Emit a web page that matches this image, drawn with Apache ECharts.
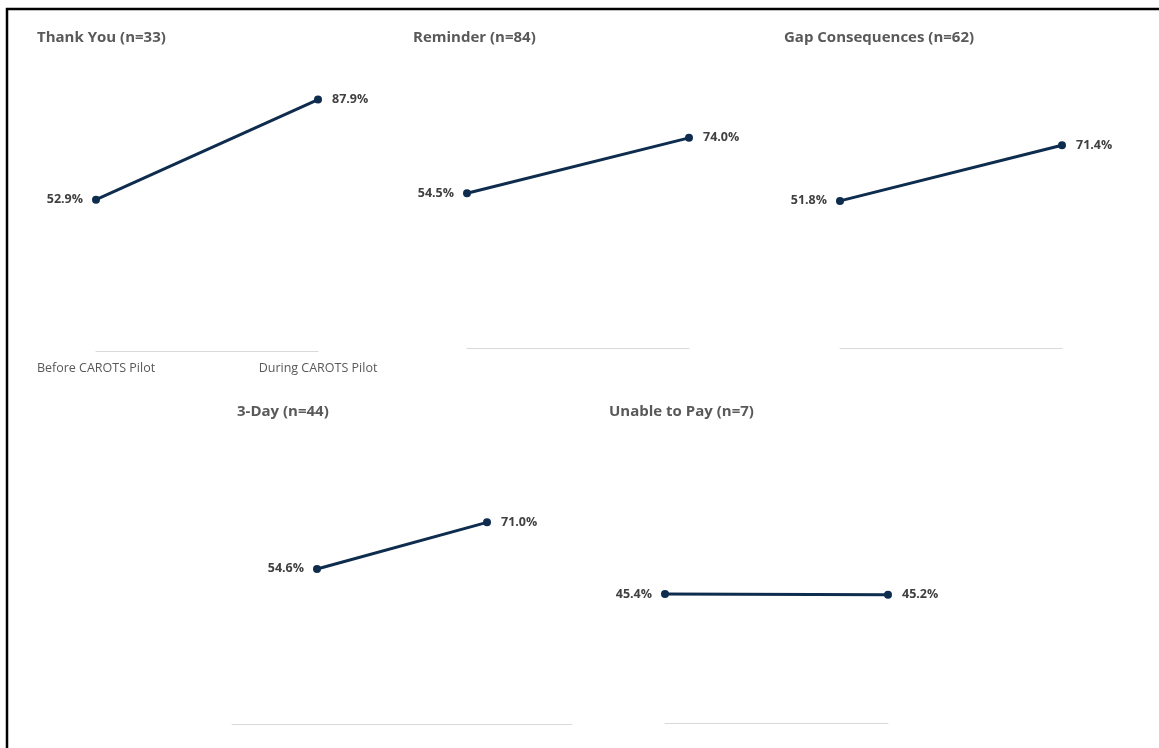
<!DOCTYPE html>
<html>
<head>
<meta charset="utf-8">
<script src="https://cdn.jsdelivr.net/npm/echarts@6/dist/echarts.min.js"></script>
<style>
  html, body { margin: 0; padding: 0; background: #ffffff; }
  #chart { width: 1159px; height: 748px; }
</style>
</head>
<body>
<div id="chart"></div>
<script>
// Share of accounts by message type, before vs. during the CAROTS pilot
const categories = ['Before CAROTS Pilot', 'During CAROTS Pilot'];
const panelNames = ['Thank You', 'Reminder', 'Gap Consequences', '3-Day', 'Unable to Pay'];
const panelN = [33, 84, 62, 44, 7];
const beforeValues = [52.9, 54.5, 51.8, 54.6, 45.4];
const duringValues = [87.9, 74.0, 71.4, 71.0, 45.2];

// Panel placement (pixels)
const layout = [
  { left: 96,  top: 65,  width: 222, height: 286, titleX: 37,  titleY: 30,  showCats: true,  gap: false },
  { left: 467, top: 64,  width: 222, height: 284, titleX: 413, titleY: 30,  showCats: false, gap: false },
  { left: 840, top: 64,  width: 222, height: 284, titleX: 784, titleY: 30,  showCats: false, gap: false },
  { left: 232, top: 440, width: 340, height: 284, titleX: 237, titleY: 404, showCats: false, gap: true },
  { left: 665, top: 439, width: 223, height: 284, titleX: 609, titleY: 404, showCats: false, gap: false }
];

const FONT = '"Open Sans", "Noto Sans", sans-serif';
const LINE_COLOR = '#0e2c4e';

const grid = [], xAxis = [], yAxis = [], series = [], title = [];

layout.forEach((p, i) => {
  grid.push({ left: p.left, top: p.top, width: p.width, height: p.height, containLabel: false });
  xAxis.push({
    gridIndex: i,
    type: 'category',
    data: categories,
    boundaryGap: p.gap,
    axisLine: { show: true, lineStyle: { color: '#d9d9d9', width: 1 } },
    axisTick: { show: false },
    axisLabel: {
      show: p.showCats,
      margin: 11,
      color: '#595959',
      fontFamily: FONT,
      fontSize: 12.5
    },
    splitLine: { show: false }
  });
  yAxis.push({
    gridIndex: i,
    type: 'value',
    min: 0,
    max: 100,
    show: false
  });
  title.push({
    text: panelNames[i] + ' (n=' + panelN[i] + ')',
    left: p.titleX,
    top: p.titleY,
    padding: 0,
    textStyle: { color: '#595959', fontFamily: FONT, fontSize: 15, fontWeight: 'bold' }
  });
  const labelBase = { show: true, color: '#404040', fontFamily: FONT, fontSize: 12.5, fontWeight: 'bold',
                      formatter: (d) => d.value.toFixed(1) + '%' };
  series.push({
    type: 'line',
    xAxisIndex: i,
    yAxisIndex: i,
    data: [
      { value: beforeValues[i], label: Object.assign({}, labelBase, { position: 'left', distance: 9 }) },
      { value: duringValues[i], label: Object.assign({}, labelBase, { position: 'right', distance: 10 }) }
    ],
    symbol: 'circle',
    symbolSize: 8,
    lineStyle: { color: LINE_COLOR, width: 3 },
    itemStyle: { color: LINE_COLOR },
    emphasis: { disabled: true },
    silent: true,
    animation: false
  });
});

const chart = echarts.init(document.getElementById('chart'), null, { renderer: 'canvas' });
chart.setOption({
  backgroundColor: '#ffffff',
  animation: false,
  title: title,
  grid: grid,
  xAxis: xAxis,
  yAxis: yAxis,
  series: series,
  graphic: [
    { type: 'line', shape: { x1: 6, y1: 9, x2: 1159, y2: 9 }, style: { stroke: '#000000', lineWidth: 2.5 } },
    { type: 'line', shape: { x1: 7, y1: 8, x2: 7, y2: 748 }, style: { stroke: '#000000', lineWidth: 2.5 } }
  ]
});
</script>
</body>
</html>
